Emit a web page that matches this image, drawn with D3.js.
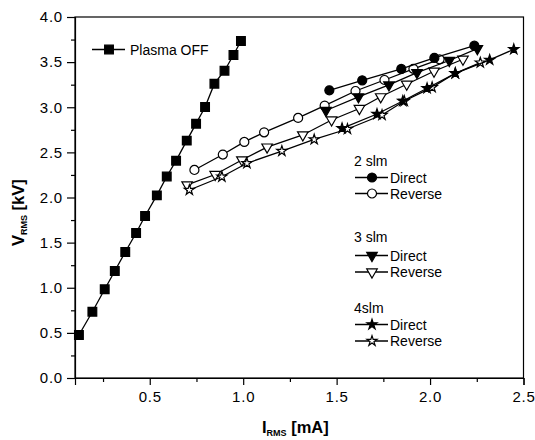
<!DOCTYPE html>
<html>
<head>
<meta charset="utf-8">
<script src="https://cdn.jsdelivr.net/npm/d3@7"></script>
<style>
body { margin: 0; background: #fff; }
svg { font-family: Arial, "Liberation Sans", sans-serif; }
.axis text { font-size: 15px; letter-spacing: 0.8px; fill: #000; }
.axis path, .axis line { stroke: #000; stroke-width: 1.2; }
.series { fill: none; stroke: #000; stroke-width: 1.3; }
.leg { font-size: 14px; }
.lbl { font-size: 16.5px; font-weight: bold; }
</style>
</head>
<body>
<div id="chart"></div>
<script>
// values: I_RMS [mA] / V_RMS [kV]
var off_x = [0.121, 0.193, 0.259, 0.313, 0.369, 0.427, 0.475, 0.538, 0.591, 0.641, 0.698, 0.748, 0.796, 0.846, 0.900, 0.948, 0.988];
var off_y = [0.476, 0.734, 0.983, 1.186, 1.396, 1.607, 1.795, 2.024, 2.233, 2.408, 2.630, 2.818, 3.003, 3.261, 3.405, 3.579, 3.734];

var s2dir_x = [1.461, 1.637, 1.846, 2.023, 2.237];
var s2dir_y = [3.188, 3.299, 3.424, 3.546, 3.682];
var s2rev_x = [0.739, 0.891, 1.006, 1.112, 1.294, 1.436, 1.601, 1.756, 1.911, 2.051];
var s2rev_y = [2.305, 2.476, 2.616, 2.722, 2.882, 3.018, 3.180, 3.302, 3.426, 3.531];

var s3dir_x = [1.443, 1.617, 1.780, 1.930, 2.103, 2.253];
var s3dir_y = [2.964, 3.116, 3.247, 3.384, 3.518, 3.649];
var s3rev_x = [0.700, 0.850, 0.993, 1.128, 1.319, 1.473, 1.622, 1.736, 1.875, 2.021, 2.176];
var s3rev_y = [2.139, 2.255, 2.416, 2.559, 2.693, 2.859, 2.986, 3.116, 3.255, 3.399, 3.532];

var s4dir_x = [1.529, 1.716, 1.854, 1.984, 2.135, 2.319, 2.448];
var s4dir_y = [2.767, 2.925, 3.069, 3.210, 3.376, 3.524, 3.642];
var s4rev_x = [0.712, 0.886, 1.020, 1.207, 1.380, 1.558, 1.743, 1.862, 2.011, 2.135, 2.269];
var s4rev_y = [2.083, 2.230, 2.379, 2.515, 2.643, 2.759, 2.914, 3.069, 3.221, 3.376, 3.494];

var xTicks = [0.5, 1.0, 1.5, 2.0, 2.5];
var xMinor = [0.25, 0.75, 1.25, 1.75, 2.25];
var yTicks = [0.0, 0.5, 1.0, 1.5, 2.0, 2.5, 3.0, 3.5, 4.0];
var yMinor = [0.25, 0.75, 1.25, 1.75, 2.25, 2.75, 3.25, 3.75];

var W = 535, H = 440;
var margin = {top: 17, right: 11.5, bottom: 62, left: 75};
var graph_w = W - margin.left - margin.right;
var graph_h = H - margin.top - margin.bottom;

var svg = d3.select("#chart").append("svg").attr("width", W).attr("height", H);
var g = svg.append("g").attr("transform", "translate(" + margin.left + "," + margin.top + ")");

var x = d3.scaleLinear().domain([0.1, 2.5]).range([0, graph_w]);
var y = d3.scaleLinear().domain([0, 4.0]).range([graph_h, 0]);

// frame
g.append("rect")
	.attr("width", graph_w).attr("height", graph_h)
	.attr("fill", "none").attr("stroke", "#000").attr("stroke-width", 1.2);

// minor ticks
g.append("g").attr("class", "axis")
	.attr("transform", "translate(0," + graph_h + ")")
	.call(d3.axisBottom(x).tickValues(xMinor).tickSize(4).tickFormat(""))
	.select(".domain").remove();
g.append("g").attr("class", "axis")
	.call(d3.axisLeft(y).tickValues(yMinor).tickSize(4).tickFormat(""))
	.select(".domain").remove();

g.append("g").attr("class", "axis")
	.attr("transform", "translate(0," + graph_h + ")")
	.call(d3.axisBottom(x).tickValues(xTicks).tickSize(7).tickPadding(6).tickFormat(d3.format(".1f")));
g.append("g").attr("class", "axis")
	.call(d3.axisLeft(y).tickValues(yTicks).tickSize(8).tickPadding(4).tickFormat(d3.format(".1f")));

var sym = {
	square: d3.symbol().type(d3.symbolSquare).size(76)(),
	circle: d3.symbol().type(d3.symbolCircle).size(64)(),
	tri: d3.symbol().type(d3.symbolTriangle).size(48)(),
	star: d3.symbol().type(d3.symbolStar).size(32)()
};

function drawSeries(xs, ys, shape, filled) {
	var pts = xs.map(function(v, i) { return [v, ys[i]]; });
	var line = d3.line()
		.x(function(d) { return x(d[0]); })
		.y(function(d) { return y(d[1]); });
	g.append("path").datum(pts).attr("class", "series").attr("d", line);
	g.append("g").selectAll("path").data(pts).enter().append("path")
		.attr("d", sym[shape])
		.attr("transform", function(d) {
			return "translate(" + x(d[0]) + "," + y(d[1]) + ")" + (shape == "tri" ? " rotate(180)" : "");
		})
		.attr("fill", filled ? "#000" : "#fff")
		.attr("stroke", "#000").attr("stroke-width", 1.2);
}

drawSeries(off_x, off_y, "square", true);
drawSeries(s2rev_x, s2rev_y, "circle", false);
drawSeries(s2dir_x, s2dir_y, "circle", true);
drawSeries(s3rev_x, s3rev_y, "tri", false);
drawSeries(s3dir_x, s3dir_y, "tri", true);
drawSeries(s4rev_x, s4rev_y, "star", false);
drawSeries(s4dir_x, s4dir_y, "star", true);

// legend
function legItem(px, py, shape, filled, label, gap) {
	svg.append("line").attr("x1", px).attr("x2", px + 33).attr("y1", py).attr("y2", py)
		.attr("stroke", "#000").attr("stroke-width", 1.3);
	svg.append("path").attr("d", sym[shape])
		.attr("transform", "translate(" + (px + 17) + "," + py + ")" + (shape == "tri" ? " rotate(180)" : ""))
		.attr("fill", filled ? "#000" : "#fff").attr("stroke", "#000").attr("stroke-width", 1.2);
	svg.append("text").attr("class", "leg").attr("x", px + (gap || 35)).attr("y", py + 5).text(label);
}
function legTitle(px, py, label) {
	svg.append("text").attr("class", "leg").attr("x", px).attr("y", py).text(label);
}

legItem(92, 49.5, "square", true, "Plasma OFF", 38);

legTitle(354, 166, "2 slm");
legItem(355, 177.5, "circle", true, "Direct");
legItem(355, 193.5, "circle", false, "Reverse");
legTitle(354, 242, "3 slm");
legItem(355, 255.5, "tri", true, "Direct");
legItem(355, 272, "tri", false, "Reverse");
legTitle(354, 313, "4slm");
legItem(355, 324.5, "star", true, "Direct");
legItem(355, 341, "star", false, "Reverse");

// axis labels
var xl = svg.append("text").attr("class", "lbl").attr("x", 262).attr("y", 433);
xl.append("tspan").text("I");
xl.append("tspan").attr("dy", 3).style("font-size", "9px").text("RMS");
xl.append("tspan").attr("dy", -3).text(" [mA]");

var yl = svg.append("text").attr("class", "lbl")
	.attr("transform", "translate(24,246) rotate(-90)");
yl.append("tspan").text("V");
yl.append("tspan").attr("dy", 3).style("font-size", "9px").text("RMS");
yl.append("tspan").attr("dy", -3).text(" [kV]");
</script>
</body>
</html>
